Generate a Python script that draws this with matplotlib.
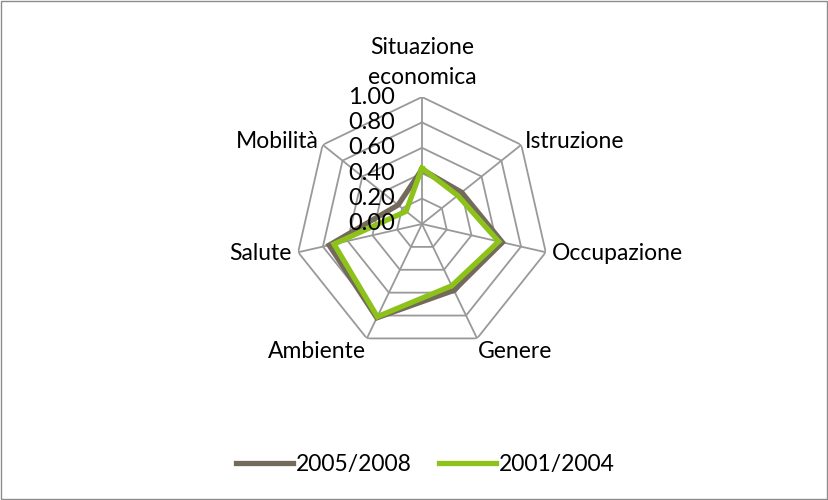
import numpy as np
import matplotlib.pyplot as plt
from matplotlib.patches import Rectangle

# indicator values for each dimension, two periods
categories = ['Situazione\neconomica', 'Istruzione', 'Occupazione', 'Genere',
              'Ambiente', 'Salute', 'Mobilità']
values_0508 = [0.43, 0.40, 0.65, 0.58, 0.82, 0.75, 0.24]
values_0104 = [0.44, 0.36, 0.62, 0.54, 0.81, 0.71, 0.16]
ring_levels = [0.0, 0.2, 0.4, 0.6, 0.8, 1.0]
ring_labels = ['0.00', '0.20', '0.40', '0.60', '0.80', '1.00']

gray_line = '#736A5C'
green_line = '#8DC21A'
grid_color = '#999999'

plt.rcParams['font.family'] = ['Lato', 'DejaVu Sans']

fig = plt.figure(figsize=(8.29, 5.0), dpi=100)
fig.patches.append(Rectangle((0.001, 0.002), 0.997, 0.996, transform=fig.transFigure,
                             fill=False, edgecolor='#8C8C8C', linewidth=1.0))

# polar axes centred on the web
cx, cy, rx, ry = 0.509, 0.552, 0.1532, 0.254
ax = fig.add_axes([cx - rx, cy - ry, 2 * rx, 2 * ry], projection='polar')
ax.set_theta_offset(np.pi / 2)
ax.set_theta_direction(-1)
ax.set_ylim(0, 1)
ax.grid(False)
ax.spines['polar'].set_visible(False)
ax.set_xticks([])
ax.set_yticks([])
ax.patch.set_alpha(0)

n = len(categories)
angles = np.linspace(0, 2 * np.pi, n, endpoint=False)
closed = np.concatenate([angles, angles[:1]])

# heptagonal rings and spokes
for lvl in ring_levels[1:]:
    ax.plot(closed, [lvl] * (n + 1), color=grid_color, linewidth=1.3, zorder=1)
for a in angles:
    ax.plot([a, a], [0, 1], color=grid_color, linewidth=1.3, zorder=1)

ax.plot(closed, values_0508 + values_0508[:1], color=gray_line, linewidth=3.8,
        solid_joinstyle='miter', zorder=3, label='2005/2008')
ax.plot(closed, values_0104 + values_0104[:1], color=green_line, linewidth=3.8,
        solid_joinstyle='miter', zorder=4, label='2001/2004')

# radial scale labels along the top spoke
for lvl, txt in zip(ring_levels, ring_labels):
    ax.text(0.394, 0.5 + lvl / 2, txt, transform=ax.transAxes, ha='right',
            va='center', fontsize=17, zorder=5)

# category labels around the web
label_pos = [
    (1.07, 'center', 'bottom'),
    (1.04, 'left', 'center'),
    (1.05, 'left', 'center'),
    (1.02, 'left', 'top'),
    (1.02, 'right', 'top'),
    (1.05, 'right', 'center'),
    (1.04, 'right', 'center'),
]
for a, lab, (r, ha, va) in zip(angles, categories, label_pos):
    ax.text(a, r, lab, ha=ha, va=va, fontsize=16.5, linespacing=1.55)

fig.legend(loc='center', bbox_to_anchor=(0.513, 0.07), ncol=2, frameon=False,
           fontsize=16.5, handlelength=2.5, handletextpad=0.1, columnspacing=1.2)

fig.savefig('out.png', dpi=100)
